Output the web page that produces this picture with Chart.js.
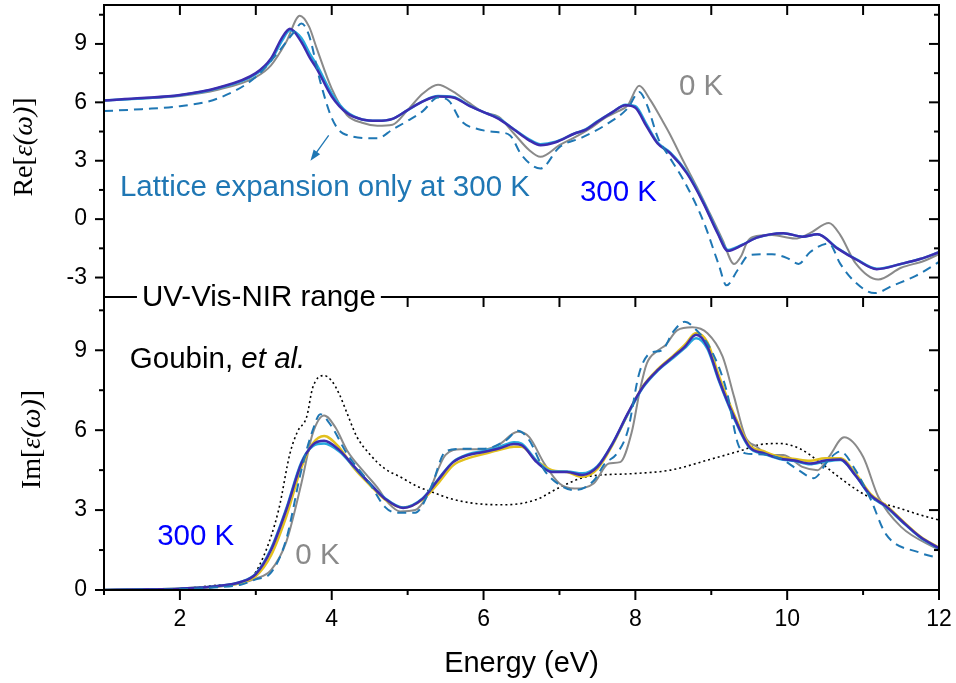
<!DOCTYPE html>
<html>
<head>
<meta charset="utf-8">
<script src="https://cdn.jsdelivr.net/npm/chart.js@4.4.1/dist/chart.umd.min.js"></script>
<style>
  body { margin: 0; background: #fff; }
  #wrap { position: relative; width: 956px; height: 683px; }
  canvas { position: absolute; left: 0; }
  #reCanvas { top: 0; }
  #imCanvas { top: 270px; }
</style>
</head>
<body>
<div id="wrap">
  <canvas id="reCanvas" width="956" height="300" style="width:956px;height:300px"></canvas>
  <canvas id="imCanvas" width="956" height="413" style="width:956px;height:413px"></canvas>
</div>
<script>
// ---- axis ticks ----
const xTicks = [2, 4, 6, 8, 10, 12];
const xMinorTicks = [1, 3, 5, 7, 9, 11];
const xTopTicks = [1, 2, 3, 4, 5, 6, 7, 8, 9, 10, 11, 12];
const reYTicks = [-3, 0, 3, 6, 9];
const reYMinor = [-1.5, 1.5, 4.5, 7.5, 10.5];
const imYTicks = [0, 3, 6, 9];
const imYMinor = [1.5, 4.5, 7.5, 10.5];

// ---- Re[eps] panel ----
// temperature bundle (300 K on top), shared energy grid
const reE = [1, 1.5, 2, 2.5, 3, 3.2, 3.35, 3.45, 3.6, 3.71, 3.8, 4.0, 4.2, 4.4, 4.6, 4.8, 5.0, 5.2, 5.4, 5.6,
  5.82, 6.0, 6.2, 6.4, 6.6, 6.75, 6.95, 7.2, 7.35, 7.5, 7.7, 7.87, 8.0, 8.15, 8.29, 8.46, 8.68, 8.9, 9.08, 9.22,
  9.4, 9.6, 9.95, 10.2, 10.4, 10.66, 10.92, 11.18, 11.5, 11.75, 12];
const reMain = [6.1, 6.22, 6.38, 6.75, 7.5, 8.25, 9.35, 9.78, 9.1, 8.3, 7.75, 6.3, 5.45, 5.12, 5.05, 5.15, 5.6, 6.05, 6.3, 6.25,
  5.8, 5.5, 5.15, 4.6, 4.05, 3.8, 3.95, 4.4, 4.6, 5.0, 5.5, 5.85, 5.72, 4.75, 3.9, 3.38, 2.35, 0.8, -0.7, -1.63,
  -1.35, -0.95, -0.72, -0.9, -0.78, -1.5, -2.1, -2.57, -2.3, -2.05, -1.7];
const reCyan = [6.1, 6.2, 6.36, 6.72, 7.45, 8.15, 9.2, 9.7, 9.3, 8.5, 7.95, 6.45, 5.5, 5.12, 5.05, 5.15, 5.6, 6.05, 6.32, 6.27,
  5.82, 5.5, 5.18, 4.62, 4.1, 3.85, 3.98, 4.4, 4.62, 5.02, 5.5, 5.88, 5.8, 4.85, 3.95, 3.42, 2.4, 0.85, -0.65, -1.58,
  -1.33, -0.95, -0.72, -0.9, -0.78, -1.48, -2.08, -2.55, -2.3, -2.05, -1.7];
// 0 K
const reZeroE = [1, 1.5, 2, 2.5, 3, 3.2, 3.4, 3.58, 3.7, 3.8, 4.0, 4.2, 4.4, 4.6, 4.8, 5.0, 5.2, 5.4, 5.6, 5.8,
  6.0, 6.2, 6.4, 6.6, 6.75, 7.0, 7.2, 7.4, 7.6, 7.75, 7.9, 8.05, 8.2, 8.35, 8.45, 8.63, 8.81, 8.98, 9.15, 9.3,
  9.4, 9.47, 9.55, 9.8, 10.1, 10.3, 10.55, 10.7, 10.9, 11.2, 11.5, 11.8, 12];
const reZero = [6.1, 6.2, 6.33, 6.65, 7.3, 7.9, 9.1, 10.45, 9.9, 8.8, 6.7, 5.35, 4.95, 4.8, 4.85, 5.6, 6.45, 6.9, 6.55, 6.0,
  5.5, 5.25, 4.4, 3.55, 3.2, 3.8, 4.2, 4.65, 5.2, 5.5, 5.85, 6.85, 6.1, 5.1, 4.4, 3.0, 1.65, 0.3, -1.08, -2.3,
  -1.85, -1.2, -0.92, -0.82, -1.0, -0.72, -0.2, -0.82, -2.26, -3.1, -2.5, -2.15, -1.8];
// lattice expansion only at 300 K
const reLatE = [1, 1.5, 2, 2.5, 3, 3.3, 3.5, 3.6, 3.7, 3.85, 4.0, 4.15, 4.6, 4.8, 5.0, 5.2, 5.4, 5.55, 5.7, 6.0,
  6.2, 6.35, 6.5, 6.75, 7.0, 7.3, 7.6, 7.9, 8.05, 8.15, 8.3, 8.43, 8.65, 8.9, 9.1, 9.2, 9.35, 9.5, 9.8, 10.0,
  10.15, 10.3, 10.55, 10.7, 10.9, 11.15, 11.4, 11.7, 12];
const reLat = [5.55, 5.65, 5.8, 6.2, 7.3, 8.6, 9.6, 10.05, 9.45, 7.05, 5.2, 4.4, 4.15, 4.6, 5.05, 5.55, 6.25, 6.05, 5.07, 4.56,
  4.46, 4.3, 3.3, 2.6, 3.7, 4.2, 4.82, 5.7, 6.53, 5.9, 4.15, 3.3, 1.9, -0.15, -2.36, -3.4, -2.6, -1.85, -1.8, -2.0,
  -2.3, -1.7, -1.25, -2.3, -3.25, -3.8, -3.4, -2.9, -2.2];

// ---- Im[eps] panel ----
const imE = [1, 1.5, 2, 2.5, 2.8, 3.0, 3.2, 3.4, 3.6, 3.75, 3.9, 4.1, 4.3, 4.5, 4.7, 4.94, 5.2, 5.4, 5.6, 5.8,
  6.0, 6.2, 6.4, 6.5, 6.7, 6.9, 7.1, 7.3, 7.5, 7.7, 7.9, 8.1, 8.3, 8.5, 8.65, 8.8, 8.95, 9.1, 9.3, 9.5,
  9.7, 9.9, 10.1, 10.3, 10.5, 10.7, 10.9, 11.1, 11.3, 11.5, 11.75, 12];
const imMain = [0, 0.02, 0.05, 0.15, 0.3, 0.6, 1.5, 3.0, 4.75, 5.45, 5.6, 5.25, 4.62, 4.0, 3.43, 3.08, 3.43, 4.13, 4.8, 5.07,
  5.18, 5.31, 5.48, 5.44, 4.8, 4.43, 4.43, 4.32, 4.62, 5.5, 6.63, 7.63, 8.27, 8.76, 9.13, 9.58, 9.13, 7.9, 6.5, 5.38,
  5.13, 4.94, 4.86, 4.75, 4.86, 4.9, 4.3, 3.55, 3.15, 2.62, 2.0, 1.57];
const imYellow = [0, 0.02, 0.05, 0.14, 0.27, 0.52, 1.3, 2.75, 4.6, 5.5, 5.78, 5.35, 4.55, 3.95, 3.4, 3.1, 3.4, 4.0, 4.68, 4.95,
  5.1, 5.25, 5.38, 5.38, 4.85, 4.5, 4.43, 4.25, 4.55, 5.45, 6.6, 7.65, 8.3, 8.8, 9.2, 9.65, 9.3, 8.05, 6.6, 5.45,
  5.2, 5.0, 4.92, 4.85, 4.95, 4.95, 4.38, 3.6, 3.18, 2.65, 2.02, 1.58];
const imCyan = [0, 0.02, 0.05, 0.15, 0.3, 0.62, 1.55, 3.05, 4.8, 5.4, 5.5, 5.2, 4.6, 4.0, 3.45, 3.1, 3.45, 4.15, 4.82, 5.1,
  5.22, 5.36, 5.55, 5.5, 4.85, 4.45, 4.45, 4.38, 4.65, 5.5, 6.6, 7.6, 8.25, 8.72, 9.08, 9.45, 9.05, 7.85, 6.45, 5.35,
  5.1, 4.92, 4.84, 4.72, 4.82, 4.88, 4.3, 3.52, 3.12, 2.6, 1.98, 1.55];
const imZeroE = [1, 2, 2.5, 2.8, 3.0, 3.2, 3.4, 3.6, 3.75, 3.9, 4.05, 4.2, 4.45, 4.6, 4.75, 4.9, 5.1, 5.25, 5.5, 5.7,
  6.0, 6.2, 6.45, 6.6, 6.8, 7.0, 7.2, 7.45, 7.65, 7.8, 7.95, 8.06, 8.15, 8.3, 8.4, 8.55, 8.75, 8.95, 9.15, 9.3,
  9.45, 9.6, 9.75, 9.95, 10.2, 10.4, 10.55, 10.75, 11.0, 11.2, 11.5, 12];
const imZero = [0, 0.04, 0.12, 0.25, 0.43, 0.75, 1.8, 4.0, 5.88, 6.55, 6.1, 5.25, 4.35, 3.85, 3.25, 2.95, 3.0, 3.5, 5.07, 5.28,
  5.28, 5.45, 5.94, 5.75, 4.75, 4.0, 3.81, 4.0, 4.75, 4.8, 5.9, 7.5, 8.5, 9.0, 9.2, 9.75, 9.86, 9.64, 8.76, 7.26,
  5.75, 5.38, 5.07, 5.07, 4.62, 4.5, 5.0, 5.73, 5.0, 3.5, 2.37, 1.5];
const imLatE = [1, 2, 2.5, 2.8, 3.0, 3.2, 3.4, 3.6, 3.75, 3.85, 4.0, 4.2, 4.5, 4.7, 4.85, 5.1, 5.3, 5.5, 5.7, 6.0,
  6.3, 6.45, 6.6, 6.8, 7.0, 7.2, 7.45, 7.6, 7.75, 7.9, 8.05, 8.2, 8.35, 8.5, 8.65, 8.8, 9.0, 9.2, 9.35, 9.45,
  9.6, 9.9, 10.15, 10.35, 10.55, 10.7, 10.9, 11.1, 11.3, 11.75, 12];
const imLat = [0, 0.03, 0.1, 0.2, 0.4, 0.65, 1.9, 4.5, 6.0, 6.6, 6.13, 5.12, 4.0, 3.12, 2.9, 2.9, 3.8, 5.2, 5.3, 5.3,
  5.63, 5.98, 5.63, 4.5, 3.95, 3.75, 4.1, 4.75, 5.1, 5.98, 8.13, 8.9, 9.0, 9.7, 10.07, 9.77, 9.0, 7.5, 5.5, 5.13,
  5.1, 4.95, 4.5, 4.2, 4.9, 5.2, 4.5, 3.4, 2.1, 1.4, 1.2];
// Goubin et al. (experiment)
const imExpE = [1, 2, 2.5, 2.9, 3.1, 3.3, 3.45, 3.55, 3.67, 3.75, 3.9, 4.0, 4.1, 4.2, 4.33, 4.5, 4.7, 4.9, 5.12, 5.3,
  5.6, 6.0, 6.3, 6.7, 7.0, 7.36, 7.97, 8.46, 8.98, 9.42, 9.64, 9.9, 10.17, 10.43, 10.7, 10.96, 11.22, 11.49, 11.75, 12];
const imExp = [0, 0.05, 0.18, 0.37, 1.25, 3.0, 5.13, 5.95, 6.5, 7.6, 8.05, 7.85, 7.35, 6.65, 5.76, 5.1, 4.55, 4.25, 3.9, 3.7,
  3.4, 3.22, 3.2, 3.4, 3.85, 4.25, 4.37, 4.5, 4.9, 5.26, 5.46, 5.5, 5.3, 4.8, 4.2, 3.68, 3.3, 3.06, 2.82, 2.63];

const SANS = "'Liberation Sans', Arial, Helvetica, sans-serif";
const SERIF = "'Liberation Serif', 'Times New Roman', serif";
const NOTE_SIZE = 29.5;
const C_MAIN = '#3c2db0';
const C_CYAN = '#27a9dd';
const C_YELLOW = '#e2c01e';
const C_ZERO = '#8a8a8a';
const C_LAT = '#1f77b4';
const C_BLUE = '#0000ff';

function series(label, xs, ys, color, width, dash, order) {
  return {
    label: label,
    data: xs.map((x, i) => ({ x: x, y: ys[i] })),
    borderColor: color,
    borderWidth: width,
    borderDash: dash,
    pointRadius: 0,
    fill: false,
    cubicInterpolationMode: 'monotone',
    order: order
  };
}

function drawSegs(ctx, segs, x, y, size, family, center) {
  let total = 0;
  const widths = segs.map(s => {
    ctx.font = (s[1] ? 'italic ' : '') + size + 'px ' + family;
    const w = ctx.measureText(s[0]).width;
    total += w;
    return w;
  });
  let cx = center ? x - total / 2 : x;
  ctx.textAlign = 'left';
  ctx.textBaseline = 'middle';
  segs.forEach((s, i) => {
    ctx.font = (s[1] ? 'italic ' : '') + size + 'px ' + family;
    ctx.fillText(s[0], cx, y);
    cx += widths[i];
  });
  return total;
}

// frame, inner/outer ticks, axis title and annotations of one panel
function makePanel(cfg) {
  return {
    id: 'panel',
    afterDraw(chart) {
      const { ctx, chartArea: a, scales } = chart;
      const xs = scales.x, ys = scales.y;
      const tick = (x1, y1, x2, y2) => { ctx.beginPath(); ctx.moveTo(x1, y1); ctx.lineTo(x2, y2); ctx.stroke(); };
      ctx.save();
      ctx.strokeStyle = '#000';
      ctx.lineWidth = 2;
      ctx.strokeRect(a.left, a.top, a.right - a.left, a.bottom - a.top);
      cfg.yMajor.forEach(v => { const p = ys.getPixelForValue(v); tick(a.left - 9, p, a.left, p); tick(a.right - 10, p, a.right, p); });
      cfg.yMinor.forEach(v => { const p = ys.getPixelForValue(v); tick(a.left - 5, p, a.left, p); tick(a.right - 5, p, a.right, p); });
      cfg.xTop.forEach(v => { const p = xs.getPixelForValue(v); tick(p, a.top, p, a.top + 10); });
      if (cfg.xBottomMajor) {
        cfg.xBottomMajor.forEach(v => { const p = xs.getPixelForValue(v); tick(p, a.bottom, p, a.bottom + 10); });
        cfg.xBottomMinor.forEach(v => { const p = xs.getPixelForValue(v); tick(p, a.bottom, p, a.bottom + 5); });
      }
      // y axis title
      ctx.fillStyle = '#000';
      ctx.save();
      ctx.translate(cfg.titleX, (a.top + a.bottom) / 2 - 4);
      ctx.rotate(-Math.PI / 2);
      drawSegs(ctx, cfg.title, 0, 0, 28, SERIF, true);
      ctx.restore();
      // arrow
      if (cfg.arrow) {
        const x1 = xs.getPixelForValue(cfg.arrow[0]), y1 = ys.getPixelForValue(cfg.arrow[1]);
        const x2 = xs.getPixelForValue(cfg.arrow[2]), y2 = ys.getPixelForValue(cfg.arrow[3]);
        const ang = Math.atan2(y2 - y1, x2 - x1);
        ctx.strokeStyle = C_LAT;
        ctx.fillStyle = C_LAT;
        ctx.lineWidth = 1.3;
        tick(x1, y1, x2 - 6 * Math.cos(ang), y2 - 6 * Math.sin(ang));
        ctx.beginPath();
        ctx.moveTo(x2, y2);
        ctx.lineTo(x2 - 11 * Math.cos(ang) + 4 * Math.sin(ang), y2 - 11 * Math.sin(ang) - 4 * Math.cos(ang));
        ctx.lineTo(x2 - 11 * Math.cos(ang) - 4 * Math.sin(ang), y2 - 11 * Math.sin(ang) + 4 * Math.cos(ang));
        ctx.closePath();
        ctx.fill();
      }
      // text labels
      cfg.labels.forEach(l => {
        const x = xs.getPixelForValue(l.e), y = ys.getPixelForValue(l.v);
        if (l.box) {
          let w = 0;
          l.segs.forEach(s => { ctx.font = (s[1] ? 'italic ' : '') + NOTE_SIZE + 'px ' + SANS; w += ctx.measureText(s[0]).width; });
          ctx.fillStyle = '#fff';
          ctx.fillRect(x - 5, y - 16, w + 10, 30);
        }
        ctx.fillStyle = l.color;
        drawSegs(ctx, l.segs, x, y, NOTE_SIZE, SANS, false);
      });
      ctx.restore();
    }
  };
}

function yAxis(min, max, tickVals) {
  return {
    min: min, max: max,
    afterBuildTicks: s => { s.ticks = tickVals.map(v => ({ value: v })); },
    afterFit: s => { s.width = 104; s.paddingTop = 0; s.paddingBottom = 0; },
    grid: { display: false, drawTicks: false },
    border: { display: false },
    ticks: { font: { family: SANS, size: 23 }, color: '#000', padding: 17 }
  };
}

new Chart(document.getElementById('reCanvas'), {
  type: 'line',
  data: {
    datasets: [
      series('Lattice expansion only at 300 K', reLatE, reLat, C_LAT, 2, [9, 6], 0),
      series('300 K', reE, reMain, C_MAIN, 2.5, [], 1),
      series('200 K', reE, reCyan, C_CYAN, 2.5, [], 2),
      series('0 K', reZeroE, reZero, C_ZERO, 2, [], 4)
    ]
  },
  options: {
    responsive: false,
    animation: false,
    layout: { padding: { top: 5, right: 17, bottom: 3, left: 0 } },
    plugins: { legend: { display: false }, tooltip: { enabled: false } },
    scales: {
      x: { type: 'linear', min: 1, max: 12, display: false },
      y: yAxis(-4, 11, reYTicks)
    }
  },
  plugins: [makePanel({
    yMajor: reYTicks, yMinor: reYMinor, xTop: xTopTicks,
    titleX: 25,
    title: [['Re[', false], ['\u03b5(\u03c9)', true], [']', false]],
    arrow: [3.96, 4.3, 3.72, 3.0],
    labels: [
      { segs: [['0 K', false]], e: 8.575, v: 6.82, color: C_ZERO },
      { segs: [['Lattice expansion only at 300 K', false]], e: 1.21, v: 1.59, color: C_LAT },
      { segs: [['300 K', false]], e: 7.27, v: 1.33, color: C_BLUE }
    ]
  })]
});

new Chart(document.getElementById('imCanvas'), {
  type: 'line',
  data: {
    datasets: [
      series('Lattice expansion only at 300 K', imLatE, imLat, C_LAT, 2, [9, 6], 0),
      series('300 K', imE, imMain, C_MAIN, 2.5, [], 1),
      series('200 K', imE, imCyan, C_CYAN, 2.5, [], 2),
      series('100 K', imE, imYellow, C_YELLOW, 2.5, [], 3),
      series('0 K', imZeroE, imZero, C_ZERO, 2, [], 4),
      series('Goubin, et al.', imExpE, imExp, '#000', 1.6, [2, 3], 5)
    ]
  },
  options: {
    responsive: false,
    animation: false,
    layout: { padding: { top: 27, right: 17, bottom: 0, left: 0 } },
    plugins: { legend: { display: false }, tooltip: { enabled: false } },
    scales: {
      x: {
        type: 'linear', min: 1, max: 12,
        afterBuildTicks: s => { s.ticks = xTicks.map(v => ({ value: v })); },
        afterFit: s => { s.height = 93; s.paddingLeft = 0; s.paddingRight = 0; },
        grid: { display: false, drawTicks: false },
        border: { display: false },
        ticks: { font: { family: SANS, size: 23 }, color: '#000', padding: 16, maxRotation: 0 },
        title: { display: true, text: 'Energy (eV)', color: '#000', font: { family: SANS, size: 29 }, padding: { top: 0, bottom: 2 } }
      },
      y: yAxis(0, 11, imYTicks)
    }
  },
  plugins: [makePanel({
    yMajor: imYTicks, yMinor: imYMinor, xTop: xTopTicks,
    xBottomMajor: xTicks, xBottomMinor: xMinorTicks,
    titleX: 33,
    title: [['Im[', false], ['\u03b5(\u03c9)', true], [']', false]],
    labels: [
      { segs: [['UV-Vis-NIR range', false]], e: 1.5, v: 10.98, color: '#000', box: true },
      { segs: [['Goubin, ', false], ['et al.', true]], e: 1.34, v: 8.65, color: '#000' },
      { segs: [['300 K', false]], e: 1.7, v: 2.0, color: C_BLUE },
      { segs: [['0 K', false]], e: 3.52, v: 1.28, color: C_ZERO }
    ]
  })]
});
</script>
</body>
</html>
